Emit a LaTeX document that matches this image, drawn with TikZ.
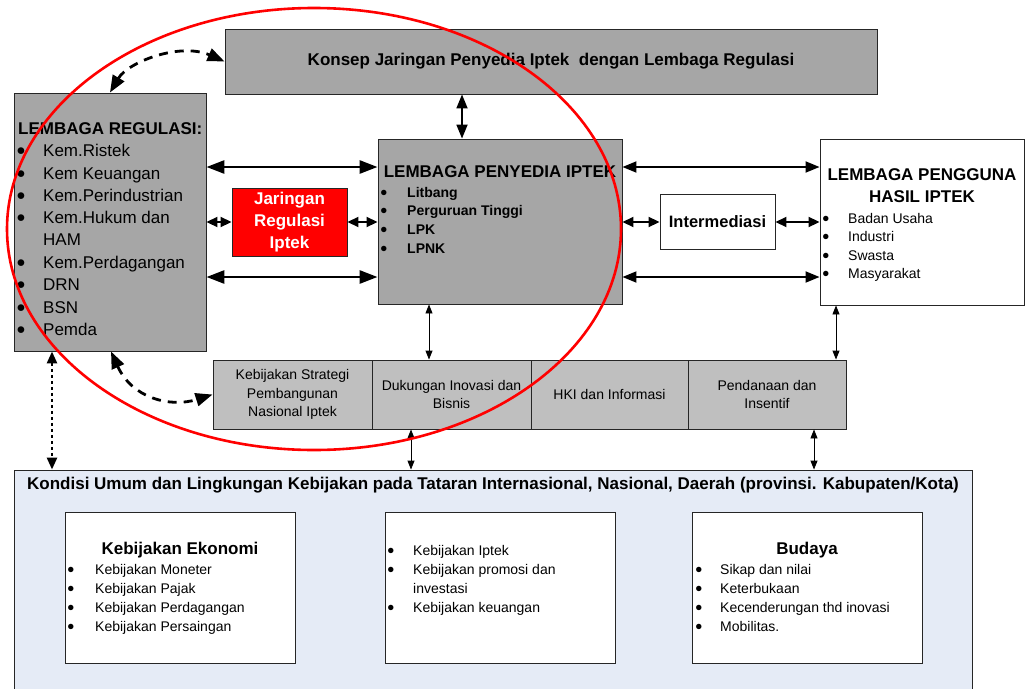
\documentclass[tikz,border=0pt]{standalone}
\usepackage{fontspec}
\setmainfont{Liberation Sans}
\usetikzlibrary{arrows.meta,fit,calc}
\definecolor{boxgray}{HTML}{A6A6A6}
\definecolor{cellgray}{HTML}{BFBFBF}
\definecolor{envblue}{HTML}{E5EBF6}
\definecolor{pured}{HTML}{FF0000}
\newcommand\ftitle{\bfseries\fontsize{17}{22}\selectfont}
\newcommand\flist{\fontsize{17}{22}\selectfont}
\newcommand\fsmall{\fontsize{14}{18.5}\selectfont}
\newcommand\fsmallb{\bfseries\fontsize{14}{18.5}\selectfont}
\newcommand\bulL{{\fontsize{15.5}{15.5}\selectfont\raisebox{0.6pt}{●}}}
\newcommand\bulS{{\fontsize{12.5}{12.5}\selectfont\raisebox{0.6pt}{●}}}
\begin{document}
\begin{tikzpicture}[x=1pt,y=-1pt,
  box/.style={draw=black!85, line width=0.9pt, inner sep=0pt},
  gbox/.style={box, fill=boxgray},
  wbox/.style={box, fill=white},
  cellbox/.style={box, fill=cellgray},
  item/.style={anchor=base west, inner sep=0pt},
  bul/.style={anchor=base, inner sep=0pt},
  bigarr/.style={line width=2.8pt, {Triangle[length=18pt,width=13pt]}-{Triangle[length=18pt,width=13pt]}},
  midarr/.style={line width=1.8pt, {Triangle[length=14pt,width=11pt]}-{Triangle[length=14pt,width=11pt]}},
  shortarr/.style={line width=1.8pt, {Triangle[length=11pt,width=10pt]}-{Triangle[length=11pt,width=10pt]}},
  thinarr/.style={line width=0.9pt, {Triangle[length=9pt,width=7pt]}-{Triangle[length=9pt,width=7pt]}},
  dotarr/.style={line width=2.6pt, dash pattern=on 3pt off 3pt, {Triangle[length=12pt,width=10pt]}-{Triangle[length=12pt,width=10pt]}},
  dasharr/.style={line width=2.8pt, dash pattern=on 9pt off 7pt, {Triangle[length=17pt,width=13pt]}-{Triangle[length=17pt,width=13pt]}}
]
\useasboundingbox (0,0) rectangle (1032,688);
\clip (0,0) rectangle (1032,688);

% ---------- boxes ----------
\node[gbox, fit={(225,29) (877,94)}] (konsep) {};
\node[font=\ftitle] (konsept) at (551,61) {Konsep Jaringan Penyedia Iptek \ dengan Lembaga Regulasi};

\node[gbox, fit={(14,93) (206,351)}] (reg) {};
\node[gbox, fit={(378,139) (622,304)}] (pen) {};
\node[box, fill=pured, fit={(232,188) (347,256)}] (jar) {};
\node[wbox, fit={(660,194) (775,249)}] (inter) {};
\node[wbox, fit={(820,139) (1024,305)}] (pgn) {};

\node[cellbox, fit={(213,360) (372,429)}] (c1) {};
\node[cellbox, fit={(372,360) (531,429)}] (c2) {};
\node[cellbox, fit={(531,360) (688,429)}] (c3) {};
\node[cellbox, fit={(688,360) (846,429)}] (c4) {};

\node[box, fill=envblue, fit={(14,470) (972,700)}] (kond) {};
\node[wbox, fit={(65,512) (295,663)}] (e1) {};
\node[wbox, fit={(385,512) (615,663)}] (e2) {};
\node[wbox, fit={(692,512) (922,663)}] (e3) {};

% ---------- texts ----------
% Lembaga Regulasi
\node[font=\ftitle, anchor=west, inner sep=0pt] (regt) at (18,129) {LEMBAGA REGULASI:};
\foreach \yy/\t [count=\i] in {156/Kem.Ristek, 179/Kem Keuangan, 201/Kem.Perindustrian, 223/Kem.Hukum dan, 268/Kem.Perdagangan, 290/DRN, 313/BSN, 335/Pemda}{
  \node[bul] (rb\i) at (21,\yy) {\bulL};
  \node[item, font=\flist] (rt\i) at (43,\yy) {\t};
}
\node[item, font=\flist] (rtham) at (43,245) {HAM};

% Jaringan
\node[font=\ftitle, text=white, align=center] (jart) at (289.5,222) {Jaringan\\Regulasi\\Iptek};

% Penyedia
\node[font=\ftitle] (pent) at (500,172) {LEMBAGA PENYEDIA IPTEK};
\foreach \yy/\t [count=\i] in {197/Litbang, 215/Perguruan Tinggi, 234/LPK, 253/LPNK}{
  \node[bul] (pb\i) at (384,\yy) {\bulS};
  \node[item, font=\fsmallb] (pt\i) at (407,\yy) {\t};
}

% Intermediasi
\node[font=\fontsize{16.5}{20}\bfseries\selectfont] (intert) at (717.5,222) {Intermediasi};

% Pengguna
\node[font=\ftitle, align=center] (pgnt) at (922,186) {LEMBAGA PENGGUNA\\HASIL IPTEK};
\foreach \yy/\t [count=\i] in {223/Badan Usaha, 241/Industri, 260/Swasta, 278/Masyarakat}{
  \node[bul] (gb\i) at (826,\yy) {\bulS};
  \node[item, font=\fsmall] (gt\i) at (848,\yy) {\t};
}

% cells
\node[font=\fsmall, align=center] (c1t) at (c1.center) {Kebijakan Strategi\\Pembangunan\\Nasional Iptek};
\node[font=\fsmall, align=center] (c2t) at (c2.center) {Dukungan Inovasi dan\\Bisnis};
\node[font=\fsmall, align=center] (c3t) at (c3.center) {HKI dan Informasi};
\node[font=\fsmall, align=center] (c4t) at (c4.center) {Pendanaan dan\\Insentif};

% Kondisi
\node[font=\ftitle] (kondt) at (493,485) {Kondisi Umum dan Lingkungan Kebijakan pada Tataran Internasional, Nasional, Daerah (provinsi. Kabupaten/Kota)};

\node[font=\ftitle] (e1t) at (180,550) {Kebijakan Ekonomi};
\foreach \yy/\t [count=\i] in {574/Kebijakan Moneter, 593/Kebijakan Pajak, 612/Kebijakan Perdagangan, 631/Kebijakan Persaingan}{
  \node[bul] (ab\i) at (71,\yy) {\bulS};
  \node[item, font=\fsmall] (at\i) at (95,\yy) {\t};
}
\foreach \yy/\t [count=\i] in {555/Kebijakan Iptek, 574/Kebijakan promosi dan, 612/Kebijakan keuangan}{
  \node[bul] (bb\i) at (391,\yy) {\bulS};
  \node[item, font=\fsmall] (bt\i) at (413,\yy) {\t};
}
\node[item, font=\fsmall] (btinv) at (413,593) {investasi};

\node[font=\ftitle] (e3t) at (807,550) {Budaya};
\foreach \yy/\t [count=\i] in {574/Sikap dan nilai, 593/Keterbukaan, 612/Kecenderungan thd inovasi, 631/Mobilitas.}{
  \node[bul] (db\i) at (699,\yy) {\bulS};
  \node[item, font=\fsmall] (dt\i) at (720,\yy) {\t};
}

% ---------- connectors ----------
\draw[bigarr] (reg.east |- 0,167) -- (pen.west |- 0,167);
\draw[bigarr] (reg.east |- 0,277) -- (pen.west |- 0,277);
\draw[shortarr] (reg.east |- 0,222) -- (jar.west |- 0,222);
\draw[shortarr] (jar.east |- 0,222) -- (pen.west |- 0,222);

\draw[midarr] (pen.east |- 0,167) -- (pgn.west |- 0,167);
\draw[midarr] (pen.east |- 0,277) -- (pgn.west |- 0,277);
\draw[shortarr] (pen.east |- 0,222) -- (inter.west |- 0,222);
\draw[shortarr] (inter.east |- 0,222) -- (pgn.west |- 0,222);

\draw[midarr] (konsep.south -| 462,0) -- (pen.north -| 462,0);

\draw[thinarr] (pen.south -| 429,0) -- (c2.north -| 429,0);
\draw[thinarr] (pgn.south -| 836,0) -- (c4.north -| 836,0);
\draw[thinarr] (c2.south -| 411,0) -- (kond.north -| 411,0);
\draw[thinarr] (c4.south -| 814,0) -- (kond.north -| 814,0);

\draw[dotarr] (reg.south -| 52,0) -- (kond.north -| 52,0);

\draw[dasharr] (reg.north -| 110,0) .. controls (128,62) and (180,42) .. (konsep.west);
\draw[dasharr] (reg.south -| 111,0) .. controls (132,398) and (170,408) .. (c1.west);

% red ellipse
\draw[pured, line width=2.6pt] (314,229) ellipse [x radius=307, y radius=221];
\end{tikzpicture}
\end{document}
